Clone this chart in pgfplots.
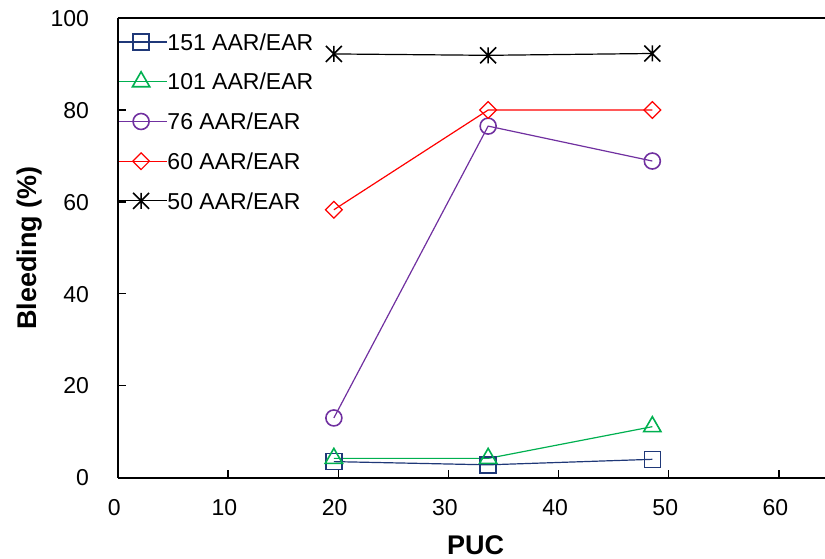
\documentclass[border=0pt]{standalone}
\usepackage{fontspec}
\setmainfont{Liberation Sans}
\usepackage{pgfplots}
\pgfplotsset{compat=1.18}
\definecolor{cNavy}{RGB}{31,56,120}
\definecolor{cGreen}{RGB}{0,176,80}
\definecolor{cPurple}{RGB}{112,48,160}
\definecolor{cRed}{RGB}{255,0,0}
\pgfdeclareplotmark{xstar}{%
  \pgfpathmoveto{\pgfqpoint{0pt}{\pgfplotmarksize}}%
  \pgfpathlineto{\pgfqpoint{0pt}{-\pgfplotmarksize}}%
  \pgfpathmoveto{\pgfqpoint{-\pgfplotmarksize}{\pgfplotmarksize}}%
  \pgfpathlineto{\pgfqpoint{\pgfplotmarksize}{-\pgfplotmarksize}}%
  \pgfpathmoveto{\pgfqpoint{-\pgfplotmarksize}{-\pgfplotmarksize}}%
  \pgfpathlineto{\pgfqpoint{\pgfplotmarksize}{\pgfplotmarksize}}%
  \pgfusepathqstroke}
\begin{document}
\begin{tikzpicture}
\begin{axis}[
  scale only axis,
  width=353.55bp, height=229.8bp,
  xmin=0, xmax=64.17, ymin=0, ymax=100,
  axis y line*=left,
  axis line style={line width=1bp},
  xtick={0,10,20,30,40,50,60},
  ytick={0,20,40,60,80,100},
  xtick pos=bottom, ytick pos=left,
  tick align=inside,
  major tick length=4bp,
  every tick/.style={black, line width=0.6bp},
  /pgf/number format/assume math mode=true,
  tick label style={font=\fontsize{11.5bp}{13bp}\selectfont, inner sep=0pt},
  xticklabel style={anchor=base, yshift=-18.65bp, xshift=-1.8bp},
  yticklabel style={anchor=base east, xshift=-14.3bp, yshift=-4.1bp},
  xlabel={\bfseries PUC},
  ylabel={\bfseries Bleeding (\%)},
  every axis x label/.style={at={(rel axis cs:0.5,0)}, yshift=-38.2bp, xshift=2.1bp, anchor=base, font=\fontsize{13.5bp}{15bp}\selectfont, inner sep=0pt},
  every axis y label/.style={at={(rel axis cs:0,0.5)}, xshift=-40.45bp, rotate=90, anchor=base, font=\fontsize{13.5bp}{15bp}\selectfont, inner sep=0pt},
  legend style={at={(rel axis cs:0,1)}, anchor=north west, draw=none, fill=none,
    inner sep=0pt, yshift=-6.74bp, row sep=9.73bp,
    font=\fontsize{11.5bp}{13bp}\selectfont,
    nodes={inner sep=0pt, text height=9.12bp, text depth=1bp},
    /tikz/every even column/.append style={column sep=0pt}},
  legend cell align=left,
  legend image code/.code={%
    \draw[mark repeat=2,mark phase=2] plot coordinates {(0bp,0bp) (11.1bp,0bp) (22.2bp,0bp)};
    \path (22.2bp,0bp) -- (24.0bp,0bp);},
  every axis plot/.append style={line width=0.6bp, mark options={solid, fill=none, line width=0.8bp}},
]
\addplot[cNavy, mark=square, mark size=4bp] coordinates {(19.6,3.5) (33.6,2.8) (48.5,4.0)};
\addlegendentry{151 AAR/EAR}
\addplot[cGreen, mark=triangle, mark size=5bp] coordinates {(19.6,4.2) (33.6,4.2) (48.5,11.1)};
\addlegendentry{101 AAR/EAR}
\addplot[cPurple, mark=o, mark size=4bp] coordinates {(19.6,13.0) (33.6,76.5) (48.5,68.9)};
\addlegendentry{76 AAR/EAR}
\addplot[cRed, mark=square, mark size=2.95bp, mark options={rotate=45}] coordinates {(19.6,58.3) (33.6,80.0) (48.5,80.0)};
\addlegendentry{60 AAR/EAR}
\addplot[black, mark=xstar, mark size=4bp] coordinates {(19.6,92.2) (33.6,91.9) (48.5,92.3)};
\addlegendentry{50 AAR/EAR}
\end{axis}
\pgfresetboundingbox
\useasboundingbox (-58.95bp,-40.65bp) rectangle (353.55bp,238.85bp);
\end{tikzpicture}
\end{document}
